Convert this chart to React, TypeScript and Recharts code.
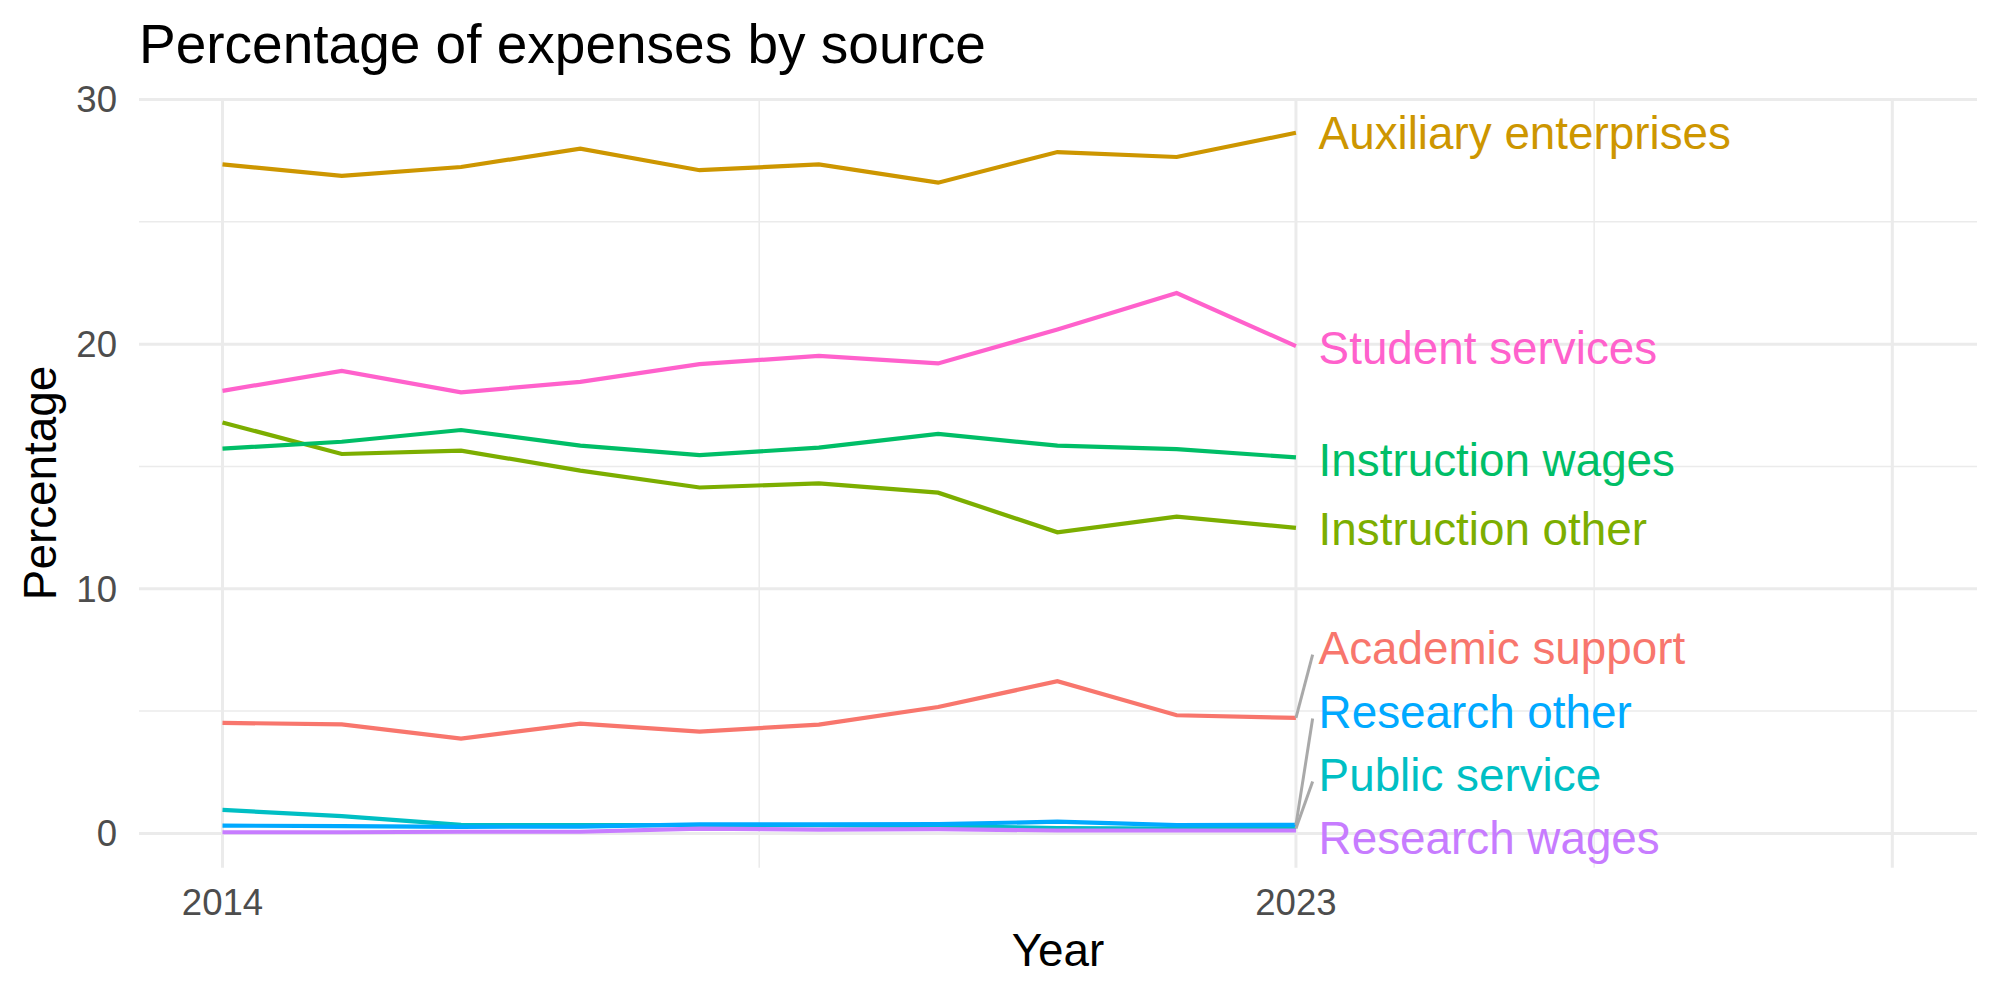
import { CartesianGrid, Line, LineChart, ReferenceDot, ReferenceLine, XAxis, YAxis } from "recharts"

// Share of expenses by source, 2014-2023 (percent)
const years = [2014, 2015, 2016, 2017, 2018, 2019, 2020, 2021, 2022, 2023]
const academicSupport = [4.52, 4.46, 3.88, 4.49, 4.16, 4.45, 5.17, 6.22, 4.83, 4.72]
const auxiliaryEnterprises = [27.35, 26.88, 27.24, 27.99, 27.11, 27.35, 26.6, 27.85, 27.65, 28.64]
const instructionOther = [16.8, 15.51, 15.65, 14.83, 14.14, 14.31, 13.93, 12.31, 12.95, 12.49]
const instructionWages = [15.73, 16.01, 16.49, 15.85, 15.46, 15.77, 16.33, 15.85, 15.71, 15.37]
const publicService = [0.96, 0.71, 0.35, 0.34, 0.34, 0.34, 0.3, 0.22, 0.2, 0.2]
const researchOther = [0.32, 0.3, 0.27, 0.28, 0.37, 0.37, 0.38, 0.48, 0.34, 0.35]
const researchWages = [0.05, 0.05, 0.07, 0.07, 0.2, 0.16, 0.18, 0.12, 0.12, 0.12]
const studentServices = [18.09, 18.91, 18.03, 18.46, 19.18, 19.52, 19.21, 20.6, 22.09, 19.92]

const xTicks = [2014, 2023]
const yTicks = [0, 10, 20, 30]

// end-of-line labels, nudged apart where they would collide (y in percent)
const labelPositions = [7.61, 28.65, 12.47, 15.28, 2.42, 5.0, -0.15, 19.87]

const series = [
  { key: "academic", name: "Academic support", color: "#F8766D", values: academicSupport },
  { key: "auxiliary", name: "Auxiliary enterprises", color: "#CD9600", values: auxiliaryEnterprises },
  { key: "instrOther", name: "Instruction other", color: "#7CAE00", values: instructionOther },
  { key: "instrWages", name: "Instruction wages", color: "#00BE67", values: instructionWages },
  { key: "public", name: "Public service", color: "#00BFC4", values: publicService },
  { key: "resOther", name: "Research other", color: "#00A9FF", values: researchOther },
  { key: "resWages", name: "Research wages", color: "#C77CFF", values: researchWages },
  { key: "student", name: "Student services", color: "#FF61CC", values: studentServices },
]

const data = years.map((year, i) => {
  const row: Record<string, number> = { year }
  series.forEach((s) => {
    row[s.key] = s.values[i]
  })
  return row
})

const FONT = "'Liberation Sans', Arial, Helvetica, sans-serif"
const BASE = 45.8
const LAST = years[years.length - 1]

export default function App() {
  return (
    <div style={{ position: "relative", width: 2000, height: 1000, background: "#fff", fontFamily: FONT }}>
      <style>{"body{margin:0}"}</style>
      <LineChart
        width={2000}
        height={1000}
        data={data}
        margin={{ top: 99, right: 23, bottom: 92.3, left: 79 }}
      >
        <CartesianGrid
          stroke="#EBEBEB"
          strokeWidth={1.5}
          horizontalValues={[5, 15, 25]}
          verticalValues={[2018.5, 2025.5]}
        />
        <CartesianGrid
          stroke="#EBEBEB"
          strokeWidth={3}
          horizontalValues={[0, 10, 20, 30]}
          verticalValues={[2014, 2023, 2028]}
        />
        <XAxis
          dataKey="year"
          type="number"
          domain={[2013.3, 2028.71]}
          ticks={xTicks}
          allowDataOverflow
          axisLine={false}
          tickLine={false}
          tickSize={0}
          tickMargin={21}
          height={40}
          tick={{ fill: "#4D4D4D", fontSize: 36.6, fontFamily: FONT }}
        />
        <YAxis
          type="number"
          domain={[-1.4, 30.02]}
          ticks={yTicks}
          allowDataOverflow
          axisLine={false}
          tickLine={false}
          tickSize={0}
          tickMargin={22}
          width={60}
          tick={{ fill: "#4D4D4D", fontSize: 36.6, fontFamily: FONT }}
        />
        {series.map((s) => (
          <Line
            key={s.key}
            dataKey={s.key}
            type="linear"
            stroke={s.color}
            strokeWidth={4.2}
            dot={false}
            activeDot={false}
            isAnimationActive={false}
          />
        ))}
        {series.map((s, i) => {
          const end = s.values[s.values.length - 1]
          const ly = labelPositions[i]
          if (Math.abs(ly - end) < 1) return null
          return (
            <ReferenceLine
              key={s.key + "-seg"}
              segment={[
                { x: LAST, y: end },
                { x: LAST + 0.14, y: ly - 0.3 },
              ]}
              stroke="#A9A9A9"
              strokeWidth={3}
            />
          )
        })}
        {series.map((s, i) => (
          <ReferenceDot
            key={s.key + "-label"}
            x={LAST + 0.19}
            y={labelPositions[i]}
            r={0}
            shape={(p: any) => (
              <text
                x={p.cx}
                y={p.cy}
                dy={0.358 * BASE}
                fill={s.color}
                fontSize={BASE}
                fontFamily={FONT}
              >
                {s.name}
              </text>
            )}
          />
        ))}
      </LineChart>
      <svg
        width={2000}
        height={1000}
        style={{ position: "absolute", left: 0, top: 0, pointerEvents: "none" }}
      >
        <text x={139} y={63} fontSize={55} fontFamily={FONT} fill="#000">
          Percentage of expenses by source
        </text>
        <text x={1058} y={966} fontSize={BASE} fontFamily={FONT} fill="#000" textAnchor="middle">
          Year
        </text>
        <text
          x={56}
          y={483}
          fontSize={BASE}
          fontFamily={FONT}
          fill="#000"
          textAnchor="middle"
          transform="rotate(-90 56 483)"
        >
          Percentage
        </text>
      </svg>
    </div>
  )
}
